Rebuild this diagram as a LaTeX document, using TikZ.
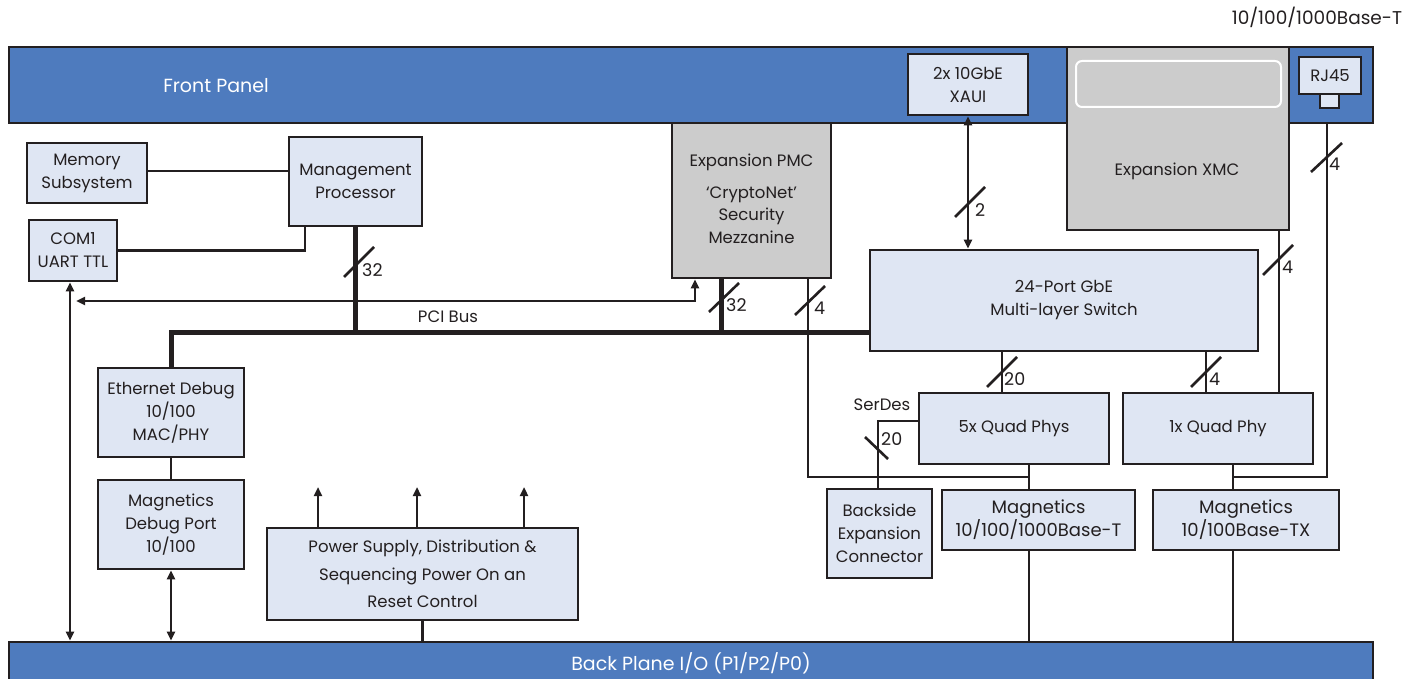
\documentclass[tikz,border=0pt]{standalone}
\usepackage{fontspec}
\setmainfont{Poppins}
\usetikzlibrary{arrows.meta}
\definecolor{panelblue}{RGB}{78,123,190}
\definecolor{boxfill}{RGB}{223,230,243}
\definecolor{grayfill}{RGB}{204,204,204}
\definecolor{ink}{RGB}{35,31,32}
\begin{document}
\begin{tikzpicture}[x=1pt,y=-1pt,
  every node/.style={font=\fontsize{16.5}{23}\selectfont, text=ink},
  box/.style={draw=ink, line width=2.6pt, fill=boxfill, inner sep=0pt, align=center},
  graybox/.style={box, fill=grayfill},
  panel/.style={draw=ink, line width=2.6pt, fill=panelblue, inner sep=0pt},
  paneltext/.style={text=white, inner sep=0pt, font=\fontsize{19}{23}\selectfont},
  numfont/.style={font=\fontsize{18.5}{23}\selectfont},
  wire/.style={draw=ink, line width=2.6pt},
  bus/.style={draw=ink, line width=5pt},
  tip/.style={-{Triangle[length=9pt,width=8pt]}},
  biarrow/.style={{Triangle[length=9pt,width=8pt]}-{Triangle[length=9pt,width=8pt]}},
  lbl/.style={anchor=west, inner sep=0pt, font=\fontsize{17.5}{23}\selectfont},
]
\useasboundingbox[fill=white] (0,0) rectangle (1424,679);

% panels
\node[panel, minimum width=1364pt, minimum height=76pt] (front) at (691,85) {};
\node[paneltext] (fptext) at (216,86) {Front Panel};
\node[panel, minimum width=1364pt, minimum height=40pt] (back) at (691,662) {};
\node[paneltext] (bptext) at (691,663) {Back Plane I/O (P1/P2/P0)};

\node[inner sep=0pt, numfont] (toplbl) at (1317,17) {10/100/1000Base-T};

% front panel items
\node[box, minimum width=120pt, minimum height=61pt] (xaui) at (968,84.5) {2x 10GbE\\XAUI};
\node[graybox, minimum width=222pt, minimum height=183pt] (xmc) at (1178,138.5) {};
\node[draw=white, line width=2pt, fill=grayfill, rounded corners=6pt, minimum width=205pt, minimum height=46pt] (xmcslot) at (1178.5,84) {};
\node[inner sep=0pt] (xmctext) at (1177,171) {Expansion XMC};
\node[box, minimum width=62pt, minimum height=37pt] (rj) at (1330,75.5) {RJ45};
\node[box, minimum width=19pt, minimum height=14pt] (rjsq) at (1329.5,101) {};

% left column
\node[box, minimum width=120pt, minimum height=60pt] (mem) at (87,173) {Memory\\Subsystem};
\node[box, minimum width=133pt, minimum height=89pt] (mp) at (355.5,181.5) {Management\\Processor};
\node[box, minimum width=88pt, minimum height=61pt] (com) at (73,250.5) {COM1\\UART TTL};
\node[box, minimum width=146pt, minimum height=89pt] (ed) at (171,412.5) {Ethernet Debug\\10/100\\MAC/PHY};
\node[box, minimum width=146pt, minimum height=89pt] (md) at (171,524.5) {Magnetics\\Debug Port\\10/100};
\node[box, minimum width=311pt, minimum height=92pt, font=\fontsize{16.5}{27.5}\selectfont] (ps) at (422.5,574) {Power Supply, Distribution \&\\Sequencing Power On an\\Reset Control};

% middle
\node[graybox, minimum width=159pt, minimum height=155pt] (pmc) at (751.5,200.5) {};
\node[inner sep=0pt, align=center] (pmctext) at (751.5,199) {Expansion PMC\\[9pt]`CryptoNet'\\[-1pt]Security\\Mezzanine};
\node[box, minimum width=388pt, minimum height=101pt] (sw) at (1064,300.5) {24-Port GbE\\Multi-layer Switch};
\node[box, minimum width=190pt, minimum height=71pt] (q5) at (1014,428.5) {5x Quad Phys};
\node[box, minimum width=190pt, minimum height=71pt] (q1) at (1218,428.5) {1x Quad Phy};
\node[box, minimum width=105pt, minimum height=89pt] (bs) at (879.5,533.5) {Backside\\Expansion\\Connector};
\node[box, minimum width=193pt, minimum height=60pt, font=\fontsize{18}{23}\selectfont] (m1) at (1038.5,520) {Magnetics\\10/100/1000Base-T};
\node[box, minimum width=186pt, minimum height=60pt, font=\fontsize{18}{23}\selectfont] (m2) at (1246,520) {Magnetics\\10/100Base-TX};
\node[inner sep=0pt] (serdes) at (882,405) {SerDes};
\node[inner sep=0pt] (pcilbl) at (448,317) {PCI Bus};

% helper coordinates
\coordinate (busy) at (0,332);
\coordinate (j1) at (1029,477);
\coordinate (j2) at (1233,477);
\coordinate (rjdown) at (1327,123);
\coordinate (xq) at (1279,0);
\coordinate (xa) at (1002,0);
\coordinate (xb) at (1206,0);
\coordinate (sd) at (878,421);
\coordinate (pciL) at (76,301);
\coordinate (xc) at (70,0);
\coordinate (pa) at (318,487);
\coordinate (pb) at (417,487);
\coordinate (pc) at (524,487);
\coordinate (xmp) at (305,0);

% connectors
\draw[wire] (mem.east |- 0,171) -- (mp.west |- 0,171);
\draw[wire] (com.east) -| (mp.south -| xmp);
\draw[bus] (mp.south) -- (mp.south |- busy);
\draw[bus] (ed.north) |- (sw.west |- busy);
\draw[bus] ([xshift=-30.5pt]pmc.south) -- ([xshift=-30.5pt]pmc.south |- busy);
\draw[wire, biarrow] (pciL) -| ([xshift=-56.5pt]pmc.south);
\draw[wire] ([xshift=56.5pt]pmc.south) |- (j1);
\draw[wire] (q5.south -| j1) -- (m1.north -| j1);
\draw[wire] (m1.south -| j1) -- (back.north -| j1);
\draw[wire] (rjdown) |- (j2);
\draw[wire] (q1.south -| j2) -- (m2.north -| j2);
\draw[wire] (m2.south -| j2) -- (back.north -| j2);
\draw[wire] (xmc.south -| xq) -- (q1.north -| xq);
\draw[wire, biarrow] (sw.north -| xaui.south) -- (xaui.south);
\draw[wire] (sw.south -| xa) -- (q5.north -| xa);
\draw[wire] (sw.south -| xb) -- (q1.north -| xb);
\draw[wire] (q5.west |- sd) -| (bs.north -| sd);
\draw[wire, biarrow] (com.south -| xc) -- (back.north -| xc);
\draw[wire] (ed.south) -- (md.north);
\draw[wire, biarrow] (md.south) -- (back.north -| md.south);
\draw[wire, tip] (ps.north -| pa) -- (pa);
\draw[wire, tip] (ps.north -| pb) -- (pb);
\draw[wire, tip] (ps.north -| pc) -- (pc);
\draw[wire] (ps.south) -- (back.north -| ps.south);

% bus-width marks
\draw[wire] (344,277) -- (374,247);
\node[lbl] (n32a) at (362,270) {32};
\draw[wire] (955,217) -- (985,187);
\node[lbl] (n2) at (975,210) {2};
\draw[wire] (1311,172) -- (1342,143);
\node[lbl] (n4a) at (1329,164) {4};
\draw[wire] (1263,275) -- (1293,245);
\node[lbl] (n4b) at (1282,267) {4};
\draw[wire] (987,387) -- (1017,357);
\node[lbl] (n20a) at (1004,379) {20};
\draw[wire] (1191,387) -- (1221,357);
\node[lbl] (n4c) at (1209,379) {4};
\draw[wire] (709,312) -- (739,283);
\node[lbl] (n32b) at (726,305) {32};
\draw[wire] (795,315) -- (825,286);
\node[lbl] (n4d) at (814,308) {4};
\draw[wire] (865,437) -- (888,459);
\node[lbl] (n20b) at (881,439) {20};
\end{tikzpicture}
\end{document}
